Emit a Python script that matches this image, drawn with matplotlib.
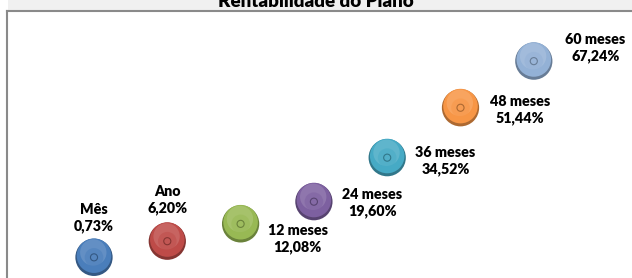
import matplotlib
matplotlib.use('Agg')
import matplotlib.pyplot as plt
import matplotlib.transforms as mtransforms
from matplotlib.colors import to_rgb
from matplotlib.patches import Rectangle
from matplotlib.lines import Line2D

# Dados do gráfico
periodos = ['Mês', 'Ano', '12 meses', '24 meses', '36 meses', '48 meses', '60 meses']
rentabilidade = [0.73, 6.20, 12.08, 19.60, 34.52, 51.44, 67.24]
rotulos_valor = ['0,73%', '6,20%', '12,08%', '19,60%', '34,52%', '51,44%', '67,24%']

cores = ['#4A7EBB', '#BE4B48', '#98B954', '#7D60A0', '#46AAC5', '#F79646', '#93B1D6']

# deslocamento dos rótulos (pontos)
desloc_rotulos = [(0, 28.5), (0, 30), (41, -10.8), (42, -0.7), (42, -2.2), (43, -1.4), (44.5, 9.4)]

W, H = 632, 278
plt.rcParams['font.family'] = ['Lato', 'DejaVu Sans']


def misturar(cor, alvo, t):
    c = to_rgb(cor)
    return tuple(a * (1 - t) + b * t for a, b in zip(c, alvo))


fig = plt.figure(figsize=(W / 100, H / 100), dpi=100)
fig.patch.set_facecolor('white')

# faixa cinza do título e borda do gráfico
fig.patches.append(Rectangle((8 / W, 1 - 10 / H), 1, 10 / H, transform=fig.transFigure,
                             facecolor='#F0F0F0', edgecolor='none', zorder=0))
fig.lines.append(Line2D([7 / W, 7 / W], [0, 1 - 10.5 / H], transform=fig.transFigure,
                        color='#8A8A8A', linewidth=1.5))
fig.lines.append(Line2D([7 / W, 1], [1 - 10.5 / H, 1 - 10.5 / H], transform=fig.transFigure,
                        color='#8A8A8A', linewidth=1.5))
fig.text(316 / W, 1 - 7 / H, 'Rentabilidade do Plano', ha='center', va='baseline',
         fontsize=13.5, fontweight='heavy', color='#000000')

ax = fig.add_axes([0, 0, 1, 1])
ax.set_facecolor('none')
ax.axis('off')

x0_px, dx_px = 94, 73.3
y0_px, dy_px = 259.5, 2.95
ax.set_xlim(-x0_px / dx_px, (W - x0_px) / dx_px)
ax.set_ylim((y0_px - H) / dy_px, y0_px / dy_px)

xs = list(range(len(periodos)))
tam = 720

rim = [misturar(c, (0, 0, 0), 0.3) for c in cores]
corpo = cores
brilho = [misturar(c, (1, 1, 1), 0.35) for c in cores]
anel = [misturar(c, (0, 0, 0), 0.3) for c in cores]

sobe1 = mtransforms.offset_copy(ax.transData, fig=fig, x=0, y=1.2, units='points')
sobe2 = mtransforms.offset_copy(ax.transData, fig=fig, x=-0.5, y=3.5, units='points')

ax.scatter(xs, rentabilidade, s=tam, c=rim, linewidths=0, zorder=2)
ax.scatter(xs, rentabilidade, s=tam * 0.86, c=corpo, linewidths=0, zorder=3, transform=sobe1)
ax.scatter(xs, rentabilidade, s=tam * 0.5, c=brilho, alpha=0.4, linewidths=0, zorder=4, transform=sobe2)
ax.scatter(xs, rentabilidade, s=tam * 0.25, c=corpo, alpha=0.5, linewidths=0, zorder=5)
ax.scatter(xs, rentabilidade, s=26, facecolors='none', edgecolors=anel, linewidths=0.8, zorder=6)

for x, v, nome, rot, (ox, oy) in zip(xs, rentabilidade, periodos, rotulos_valor, desloc_rotulos):
    ax.annotate(f'{nome}\n{rot}', (x, v), xytext=(ox, oy), textcoords='offset points',
                ha='center', va='center', multialignment='center', fontsize=10.3,
                fontweight='heavy', color='#000000', linespacing=1.3, zorder=7)

fig.savefig('out.png', dpi=100, facecolor='white')
